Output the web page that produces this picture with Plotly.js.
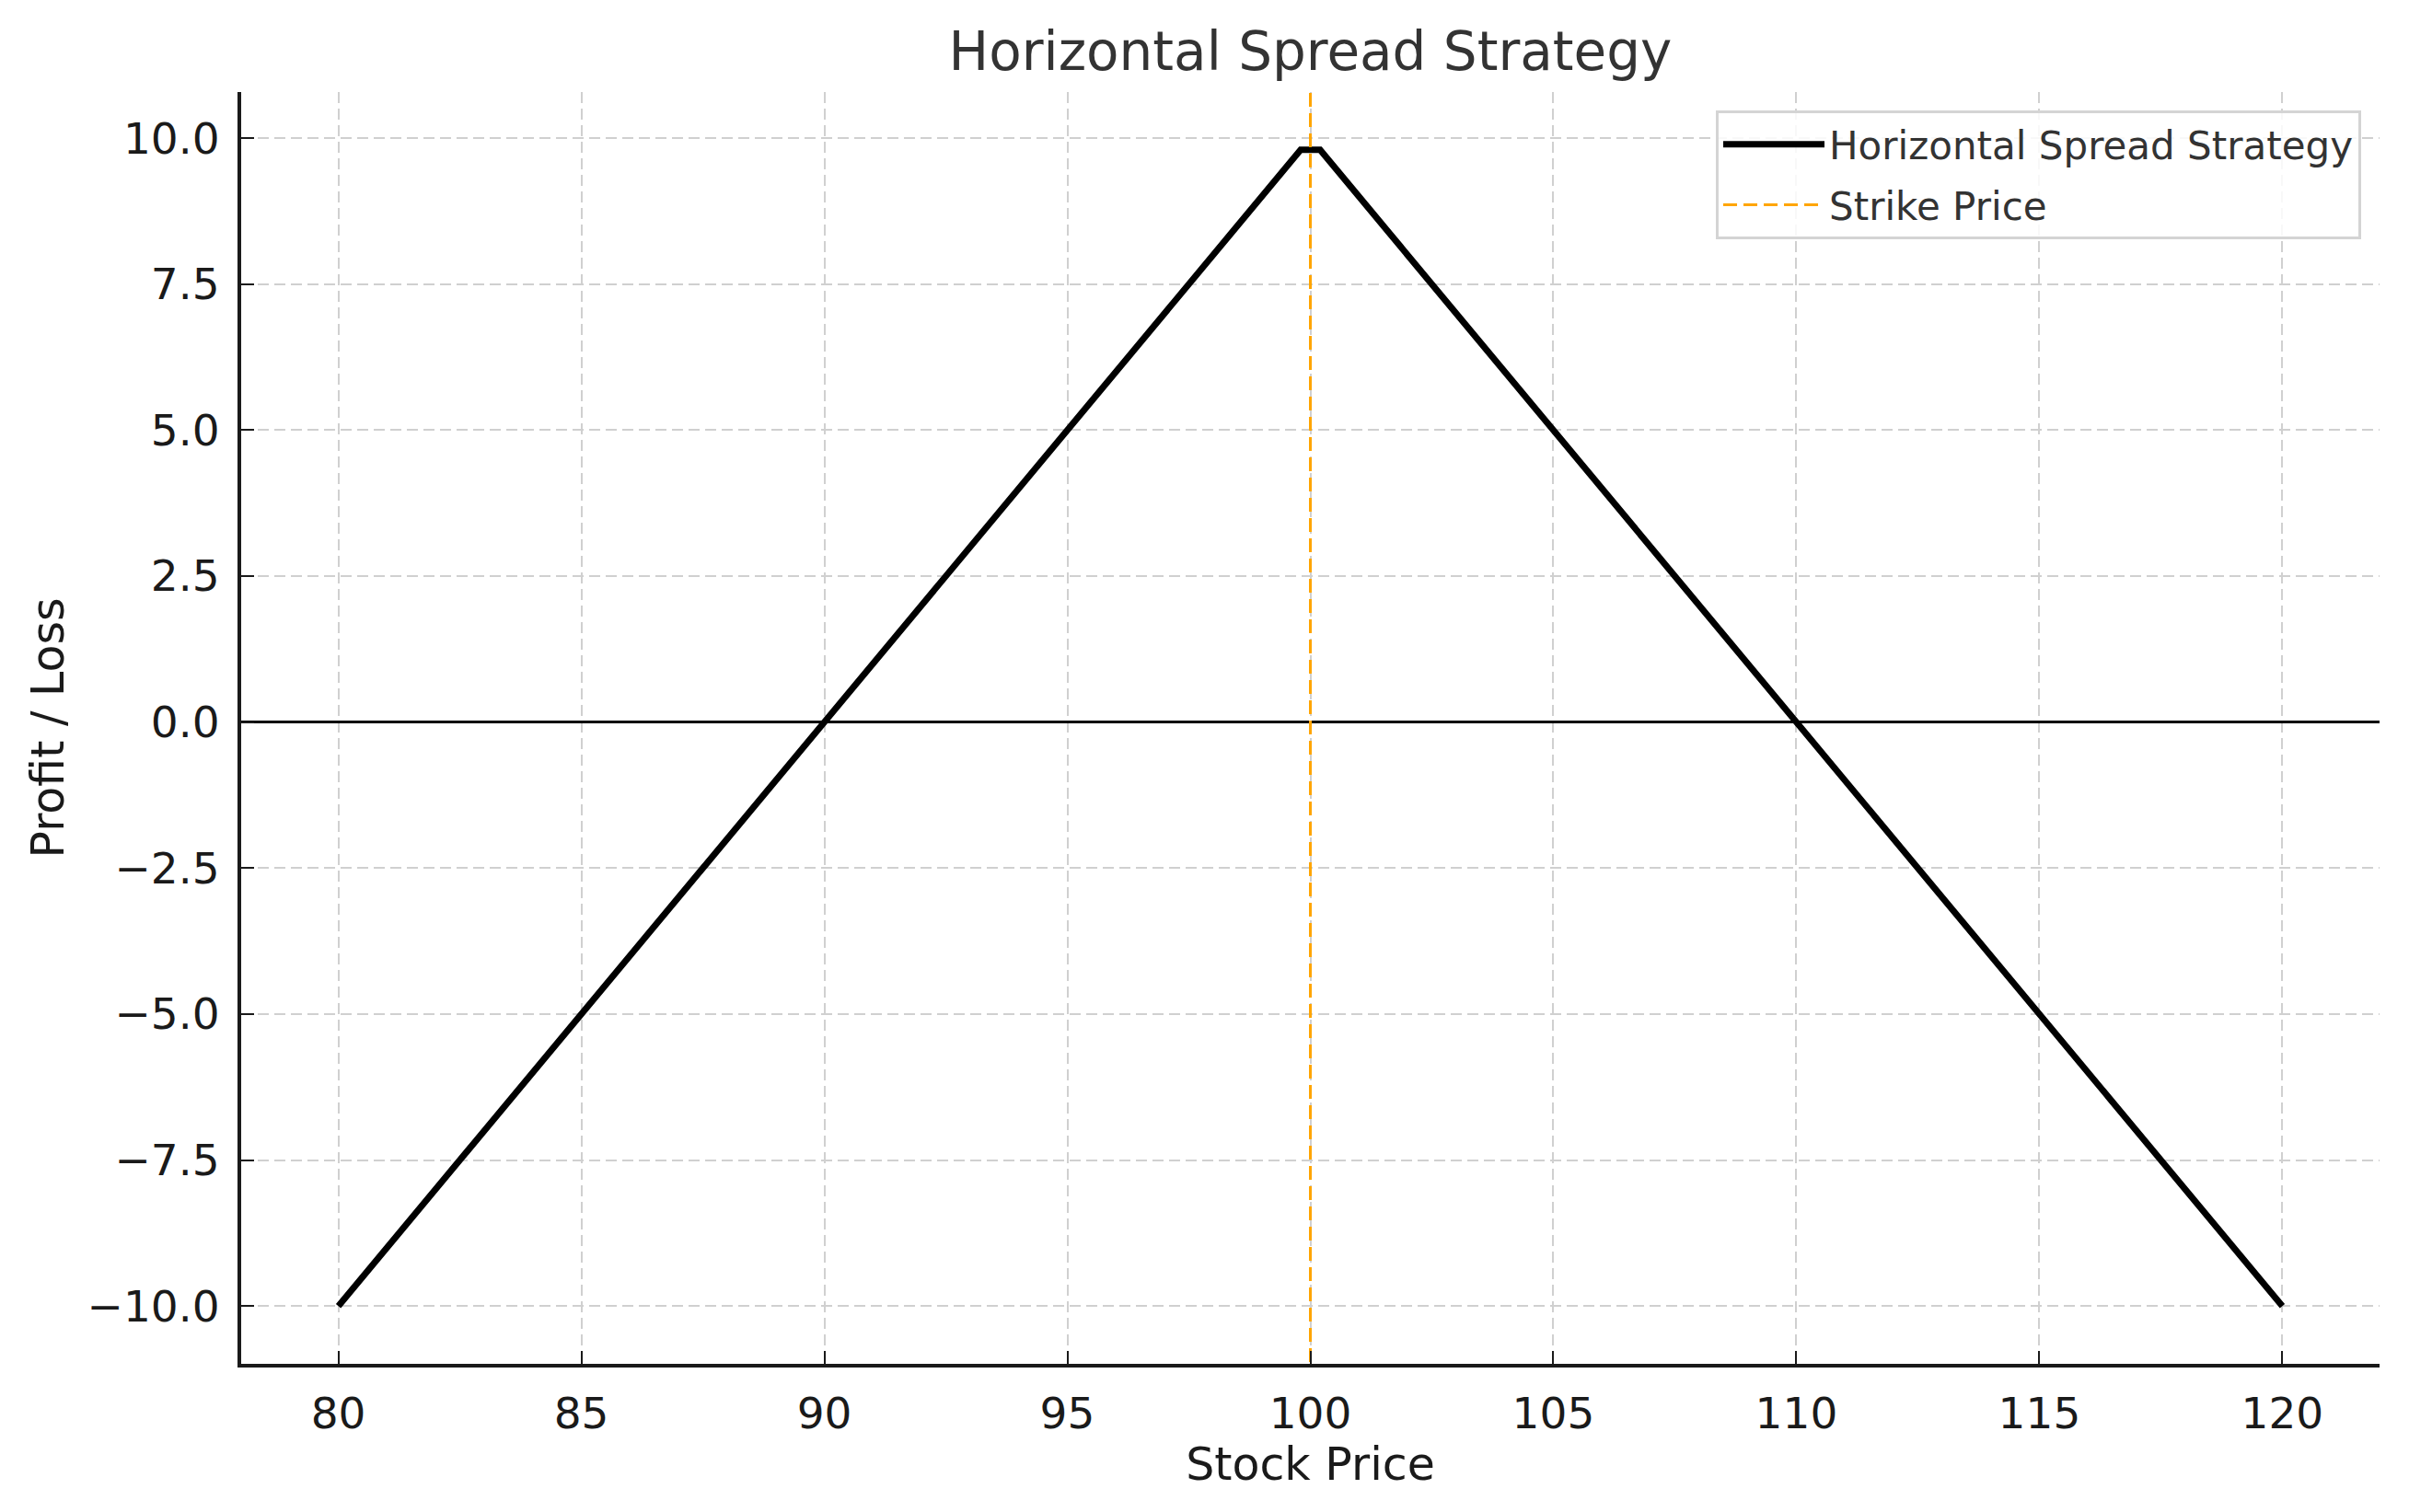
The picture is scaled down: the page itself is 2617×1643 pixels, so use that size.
<!DOCTYPE html>
<html>
<head>
<meta charset="utf-8">
<script src="https://cdn.plot.ly/plotly-3.0.1.min.js"></script>
<style>html,body{margin:0;padding:0;background:#fff;}#chart{width:2617px;height:1643px;}</style>
</head>
<body>
<div id="chart"></div>
<script>
// Data
const stockPrice = [80, 99.8, 100.2, 120];
const profitLoss = [-10, 9.8, 9.8, -10];
const strikeX = [100, 100];
const strikeY = [-12, 12];
const xTickVals = [80, 85, 90, 95, 100, 105, 110, 115, 120];
const xTickText = ["80", "85", "90", "95", "100", "105", "110", "115", "120"];
const yTickVals = [-10, -7.5, -5, -2.5, 0, 2.5, 5, 7.5, 10];
const yTickText = ["\u221210.0", "\u22127.5", "\u22125.0", "\u22122.5", "0.0", "2.5", "5.0", "7.5", "10.0"];

const font = "DejaVu Sans, sans-serif";

const traces = [
  {
    x: stockPrice, y: profitLoss, type: "scatter", mode: "lines",
    name: "Horizontal Spread Strategy", legendgroup: "a",
    line: {color: "#000000", width: 7}
  },
  {
    x: strikeX, y: strikeY, type: "scatter", mode: "lines",
    name: "Strike Price", legendgroup: "b",
    line: {color: "#FFA500", width: 3, dash: "15px,7px"}
  }
];

const axisCommon = {
  showline: true, linewidth: 4, linecolor: "#1a1a1a", mirror: false,
  ticks: "inside", ticklen: 14, tickwidth: 2, tickcolor: "#1a1a1a",
  tickfont: {family: font, size: 47, color: "#1a1a1a"},
  showgrid: true, gridcolor: "#d0d0d0", gridwidth: 2, griddash: "12px,6px",
  ticklabelstandoff: 10
};

const layout = {
  width: 2617, height: 1643,
  paper_bgcolor: "#ffffff", plot_bgcolor: "#ffffff",
  margin: {l: 262, r: 32, t: 100, b: 161, pad: 0},
  title: {text: "Horizontal Spread Strategy", font: {family: font, size: 58, color: "#333333"},
          x: 0.5, xref: "paper", xanchor: "center", y: 0.966, yanchor: "middle"},
  xaxis: Object.assign({}, axisCommon, {
    range: [78, 122], tickmode: "array", tickvals: xTickVals, ticktext: xTickText,
    zeroline: false,
    title: {text: "Stock Price", font: {family: font, size: 49, color: "#1a1a1a"}, standoff: 6}
  }),
  yaxis: Object.assign({}, axisCommon, {
    range: [-10.99, 10.79], tickmode: "array", tickvals: yTickVals, ticktext: yTickText,
    zeroline: true, zerolinecolor: "#000000", zerolinewidth: 3.5,
    title: {text: "Profit / Loss", font: {family: font, size: 49, color: "#1a1a1a"}, standoff: 10}
  }),
  showlegend: true,
  legend: {
    x: 0.9914, y: 0.9855, xanchor: "right", yanchor: "top",
    bgcolor: "rgba(255,255,255,0.85)", bordercolor: "#d4d4d4", borderwidth: 3,
    font: {family: font, size: 42, color: "#333333"},
    itemwidth: 110, tracegroupgap: 8
  }
};

Plotly.newPlot("chart", traces, layout, {displayModeBar: false, staticPlot: true});
</script>
</body>
</html>
